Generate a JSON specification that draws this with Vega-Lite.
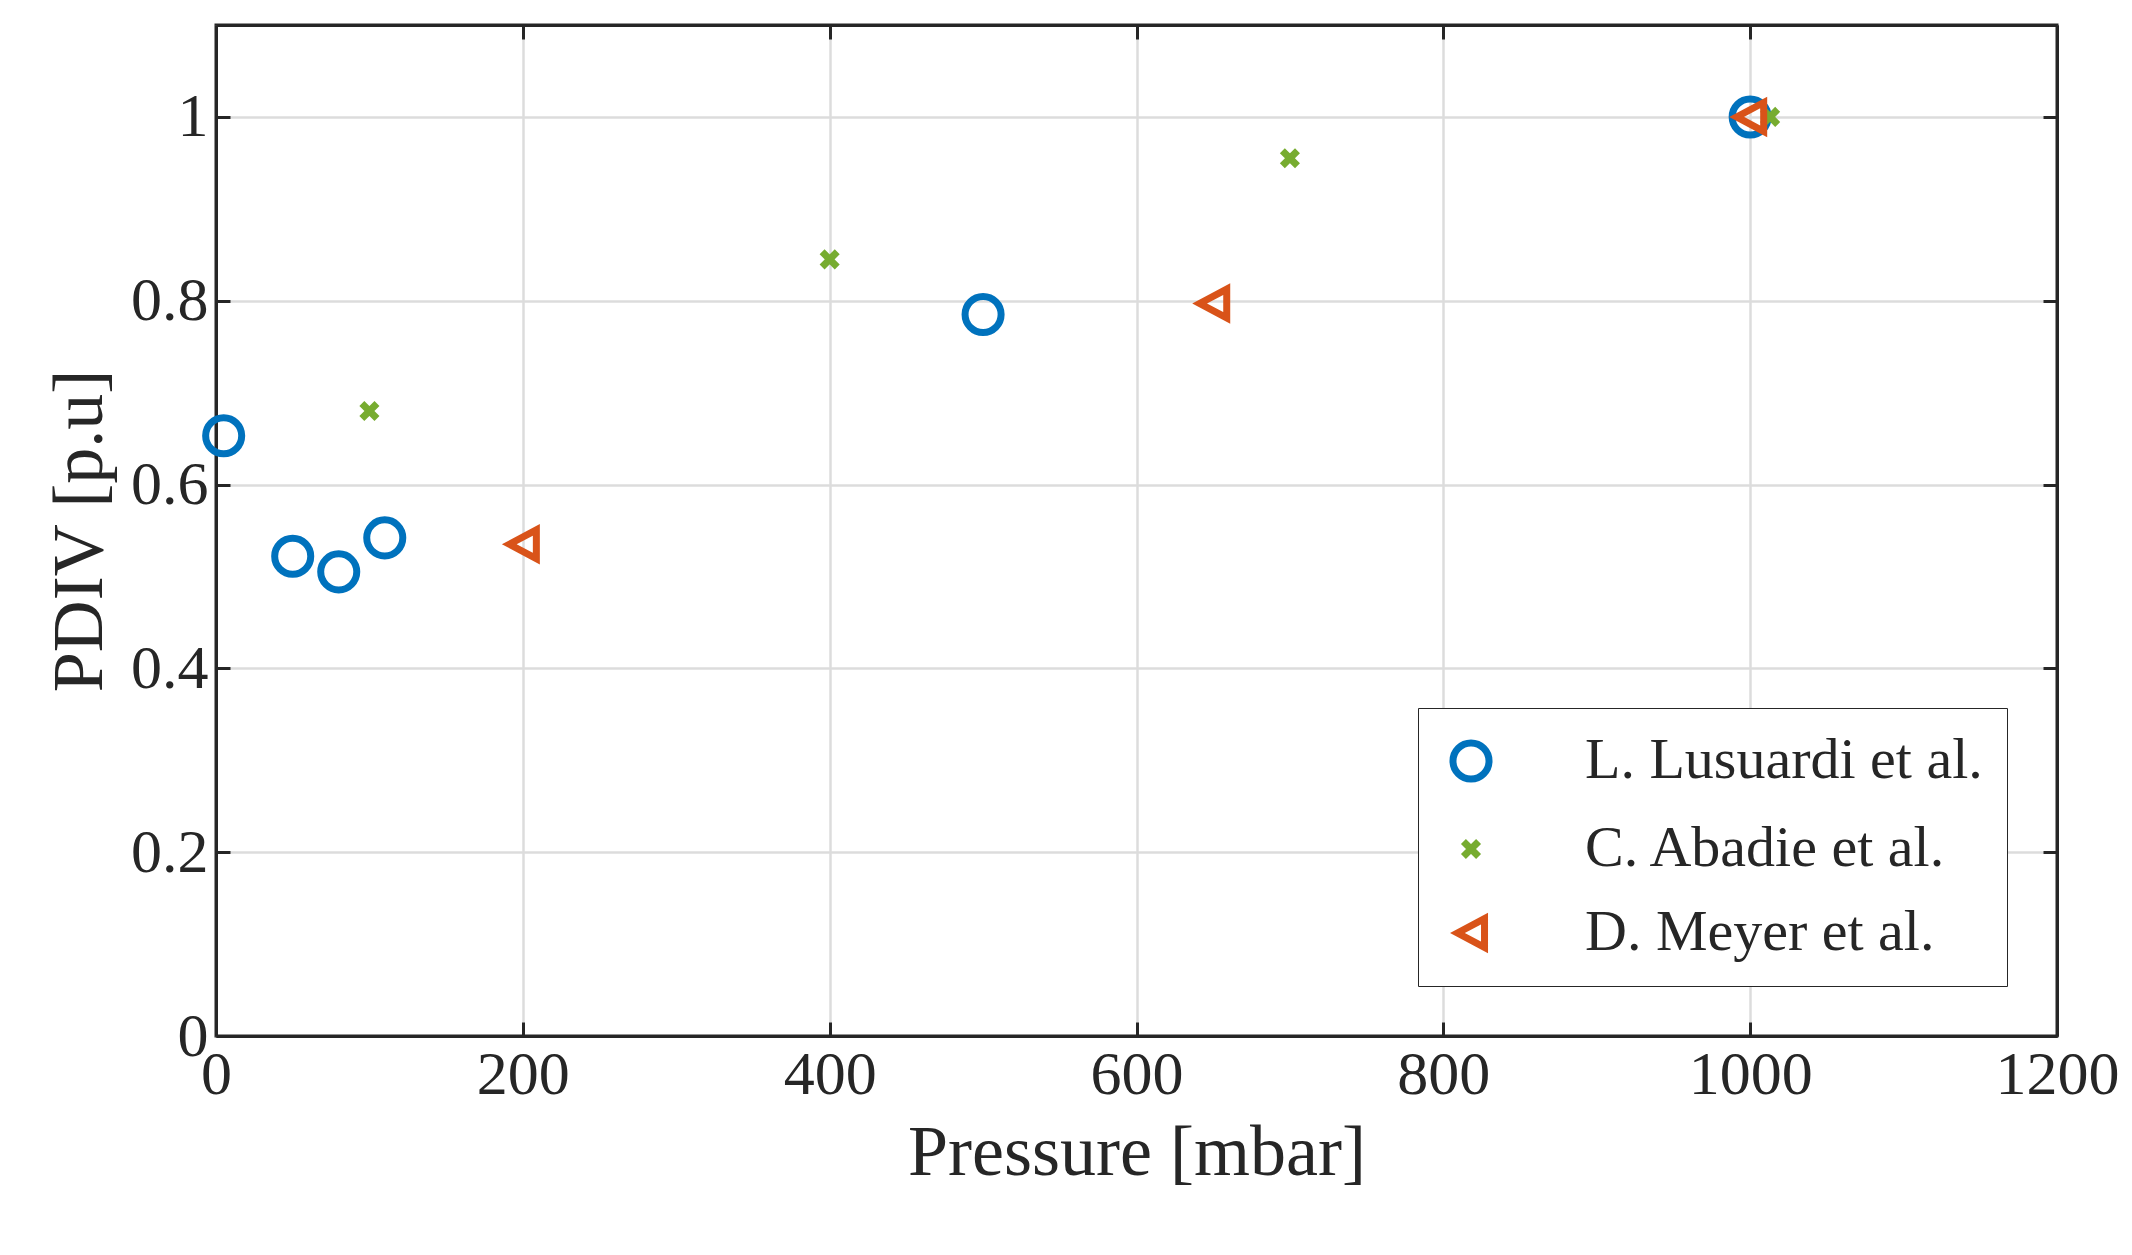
{
  "$schema": "https://vega.github.io/schema/vega-lite/v6.json",
  "autosize": "none",
  "width": 1841,
  "height": 1011,
  "padding": {"left": 216, "top": 25, "right": 75, "bottom": 219},
  "background": "white",
  "config": {
    "font": "Liberation Serif",
    "view": {"stroke": "#262626", "strokeWidth": 3},
    "axis": {"labelFont": "Liberation Serif", "titleFont": "Liberation Serif", "labelFontSize": 62, "titleFontSize": 72, "titleFontWeight": "normal", "labelColor": "#262626", "titleColor": "#262626", "domainColor": "#262626", "domainWidth": 3, "tickColor": "#262626", "tickWidth": 3, "tickSize": -14, "gridColor": "#dcdcdc", "gridWidth": 2.5}
  },
  "data": {"values": [
    {"p": 5, "v": 0.653, "s": "L. Lusuardi et al."},
    {"p": 50, "v": 0.522, "s": "L. Lusuardi et al."},
    {"p": 80, "v": 0.505, "s": "L. Lusuardi et al."},
    {"p": 110, "v": 0.542, "s": "L. Lusuardi et al."},
    {"p": 500, "v": 0.785, "s": "L. Lusuardi et al."},
    {"p": 1000, "v": 1.0, "s": "L. Lusuardi et al."},
    {"p": 100, "v": 0.68, "s": "C. Abadie et al."},
    {"p": 400, "v": 0.845, "s": "C. Abadie et al."},
    {"p": 700, "v": 0.955, "s": "C. Abadie et al."},
    {"p": 1013, "v": 1.0, "s": "C. Abadie et al."},
    {"p": 200, "v": 0.535, "s": "D. Meyer et al."},
    {"p": 650, "v": 0.797, "s": "D. Meyer et al."},
    {"p": 1000, "v": 1.0, "s": "D. Meyer et al."}
  ]},
  "layer": [
    {
      "mark": {"type": "point", "filled": false, "strokeWidth": 7, "size": 1300, "opacity": 1},
      "encoding": {
        "x": {"field": "p", "type": "quantitative", "scale": {"domain": [0, 1200], "nice": false}, "axis": {"title": "Pressure [mbar]", "format": "d", "values": [0, 200, 400, 600, 800, 1000, 1200], "labelPadding": 22, "titlePadding": 12, "labelFlush": false}},
        "y": {"field": "v", "type": "quantitative", "scale": {"domain": [0, 1.1], "nice": false}, "axis": {"title": "PDIV [p.u]", "format": "~g", "values": [0, 0.2, 0.4, 0.6, 0.8, 1], "labelPadding": 22, "titlePadding": 14, "labelFlush": false}},
        "color": {"field": "s", "type": "nominal", "scale": {"domain": ["L. Lusuardi et al.", "C. Abadie et al.", "D. Meyer et al."], "range": ["#0072BD", "#77AC30", "#D95319"]},
          "legend": {"title": null, "orient": "bottom-right", "offset": 50, "labelFontSize": 58, "labelFont": "Liberation Serif", "labelColor": "#262626", "labelLimit": 0, "strokeColor": "#262626", "fillColor": "white", "padding": 24, "rowPadding": 26, "labelOffset": 85, "symbolSize": 1300, "symbolStrokeWidth": 7, "symbolOpacity": 1}},
        "shape": {"field": "s", "type": "nominal", "scale": {"domain": ["L. Lusuardi et al.", "C. Abadie et al.", "D. Meyer et al."], "range": ["circle", "M-0.42,-0.42L0.42,0.42M0.42,-0.42L-0.42,0.42", "M0.75,-0.8L-0.75,0L0.75,0.8Z"]}, "legend": null}
      }
    },
    {
      "mark": {"type": "point", "opacity": 0},
      "encoding": {
        "x": {"field": "p", "type": "quantitative", "scale": {"domain": [0, 1200], "nice": false}, "axis": {"orient": "top", "title": null, "labels": false, "grid": false, "values": [0, 200, 400, 600, 800, 1000, 1200]}},
        "y": {"field": "v", "type": "quantitative", "scale": {"domain": [0, 1.1], "nice": false}, "axis": {"orient": "right", "title": null, "labels": false, "grid": false, "values": [0, 0.2, 0.4, 0.6, 0.8, 1]}}
      }
    }
  ],
  "resolve": {"axis": {"x": "independent", "y": "independent"}}
}
